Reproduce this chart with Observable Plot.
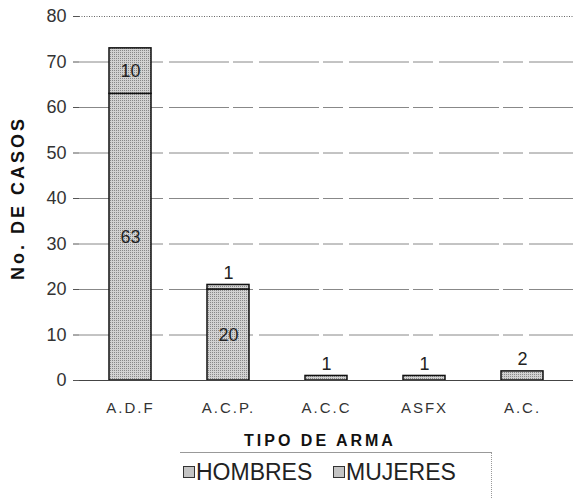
<!DOCTYPE html>
<html><head><meta charset="utf-8">
<script src="https://cdn.jsdelivr.net/npm/d3@7"></script>
<script src="https://cdn.jsdelivr.net/npm/@observablehq/plot@0.6"></script>
<style>
body{margin:0;background:#fff;font-family:"Liberation Sans",Arial,sans-serif;}
#wrap{position:relative;width:573px;height:498px;}
#legend{position:absolute;left:180px;top:452px;width:312px;height:46px;border-top:1px solid #999;border-right:1px dotted #999;box-sizing:border-box;}
.item{position:absolute;top:6px;font-size:23px;color:#222;line-height:26px;}
.sw{position:absolute;width:10px;height:10px;border:1px solid #333;background:#c4c4c4;}
</style></head><body>
<div id="wrap"><div id="chart"></div>
<div id="legend">
<div class="sw" style="left:3px;top:13px"></div><div class="item" style="left:16px">HOMBRES</div>
<div class="sw" style="left:153px;top:13px"></div><div class="item" style="left:166px">MUJERES</div>
</div></div>
<script>
const categories = ["A.D.F", "A.C.P.", "A.C.C", "ASFX", "A.C."];
const hombres = [63, 20, 1, 1, 2];
const mujeres = [10, 1, 0, 0, 0];
const yTicks = [0, 10, 20, 30, 40, 50, 60, 70, 80];
const yTitle = "No. DE CASOS";
const xTitle = "TIPO DE ARMA";

const data = [];
categories.forEach((c, i) => {
  data.push({cat: c, sexo: "HOMBRES", n: hombres[i]});
  data.push({cat: c, sexo: "MUJERES", n: mujeres[i]});
});
const segs = data.filter(d => d.n > 0);
const labels = [];
categories.forEach((c, i) => {
  const total = hombres[i] + mujeres[i];
  if (hombres[i] > 0) labels.push({cat: c, y: hombres[i] >= 5 ? hombres[i] / 2 : total, t: hombres[i], above: hombres[i] < 5});
  if (mujeres[i] > 0) labels.push({cat: c, y: mujeres[i] >= 5 ? hombres[i] + mujeres[i] / 2 : total, t: mujeres[i], above: mujeres[i] < 5});
});

const chart = Plot.plot({
  width: 573, height: 452,
  marginLeft: 79, marginRight: 0, marginTop: 16, marginBottom: 72,
  style: {fontFamily: "Liberation Sans, Arial, sans-serif", background: "#fff"},
  x: {domain: categories, paddingInner: 0.57, paddingOuter: 0.285, label: null},
  y: {domain: [0, 80], label: null},
  marks: [
    Plot.ruleY(yTicks.filter(t => t > 0 && t < 80), {stroke: "#888", strokeWidth: 1, strokeDasharray: "60,4,20,6"}),
    Plot.ruleY([80], {stroke: "#666", strokeDasharray: "1,1.5"}),
    Plot.ruleX([0], {x: () => null, frameAnchor: "left", stroke: "#666", strokeDasharray: "1,1.5"}),
    Plot.barY(segs, {x: "cat", y: "n", fill: "url(#dots)", stroke: "#111", strokeWidth: 1.5, order: ["HOMBRES", "MUJERES"], z: "sexo"}),
    Plot.ruleY([0], {stroke: "#444"}),
    Plot.axisY({ticks: yTicks, tickSize: 6, tickPadding: 7, fontSize: 18, fill: "#333", stroke: "#555", label: null}),
    Plot.axisX({tickSize: 0, tickPadding: 22, fontSize: 15, fill: "#333", label: null}),
    Plot.text(labels.filter(d => !d.above), {x: "cat", y: "y", text: "t", fontSize: 18, fill: "#222"}),
    Plot.text(labels.filter(d => d.above), {x: "cat", y: "y", text: "t", fontSize: 18, fill: "#222", dy: -12})
  ]
});
const svg = d3.select(chart);
const defs = svg.insert("defs", ":first-child");
const p = defs.append("pattern").attr("id", "dots").attr("patternUnits", "userSpaceOnUse").attr("width", 2).attr("height", 2);
p.append("rect").attr("width", 2).attr("height", 2).attr("fill", "#d2d2d2");
p.append("rect").attr("width", 1).attr("height", 1).attr("fill", "#888");
svg.append("text").text(yTitle)
  .attr("transform", "translate(24,198) rotate(-90)")
  .attr("text-anchor", "middle")
  .attr("font-size", 18).attr("font-weight", "bold").attr("fill", "#111")
  .style("letter-spacing", "3px");
svg.append("text").text(xTitle)
  .attr("x", 320).attr("y", 446)
  .attr("text-anchor", "middle")
  .attr("font-size", 16).attr("font-weight", "bold").attr("fill", "#111")
  .style("letter-spacing", "3px");
svg.selectAll("[aria-label='x-axis tick label'] text").style("letter-spacing", "2px");
document.getElementById("chart").appendChild(chart);
</script></body></html>
